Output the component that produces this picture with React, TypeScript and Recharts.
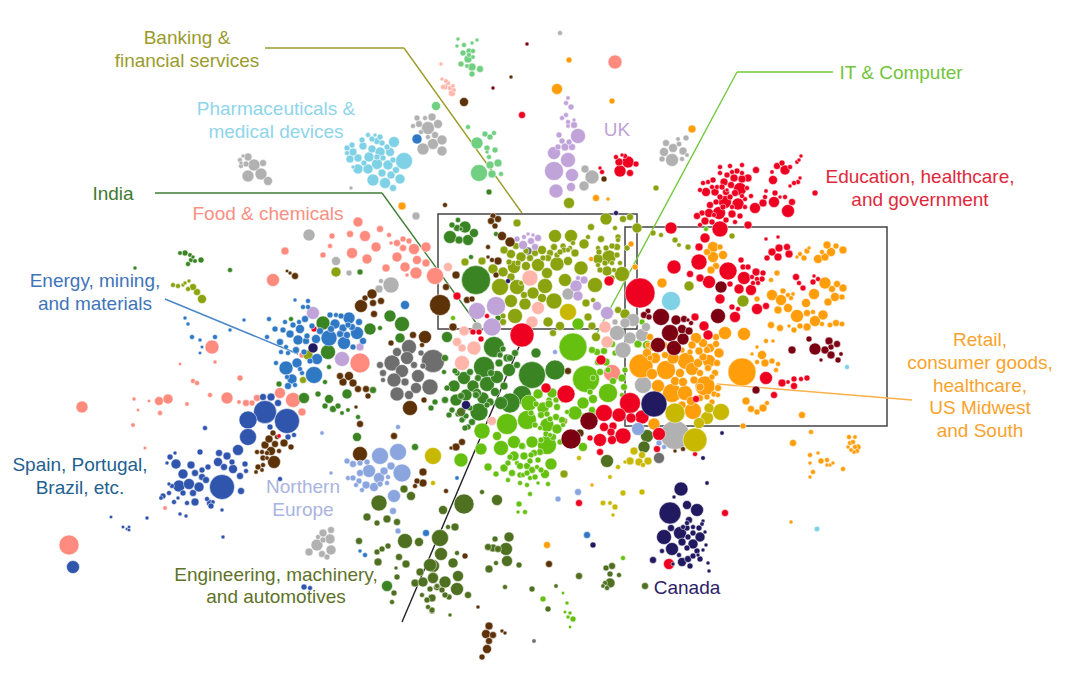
import { ReferenceArea, ReferenceLine, Scatter, ScatterChart, XAxis, YAxis, ZAxis } from "recharts";

type Bubble = [number, number, number];

// [x, y, radius], pixels of the 1080x677 frame
const pharma: Bubble[] = [[404,161,8],[394,142,4.5],[373,180,5],[385,183,4.5],[400,179,4],[393,188,2.5],[377,164,4.5],[388,165,4],[369,157,4],[380,152,4],[390,152,3.5],[358,169,4],[368,169,4],[382,173,3],[391,175,3],[396,170,2.5],[350,159,3],[358,158,3],[353,152,3],[363,146,3],[372,149,3],[377,141,2.5],[352,145,2],[347,148,2],[347,153,1.5],[364,163,2],[372,139,2],[368,135,1.5],[380,137,2],[387,147,2],[383,158,2],[393,160,2],[362,140,2],[375,135,1],[382,143,2],[353,167,1],[377,157,2],[671,301,9],[817,529,1.8],[847,367,1.5]];
const greyLight: Bubble[] = [[428,128,6],[433,144,4.5],[423,149,5],[432,117,3],[417,118,2],[419,124,2.5],[413,126,1.5],[425,118,1.5],[421,132,1.5],[435,135,2.5],[428,137,1.5],[438,124,3.5],[442,140,4],[442,151,4],
  [254,165,5],[261,174,5],[248,176,5],[268,181,3.5],[263,163,2.5],[248,157,3],[241,166,1.5],[246,164,2],[240,160,1.5],[243,156,1],[241,163,1],
  [592,177,6.5],[584,186,4],[585,169,3],[672,160,5.5],[673,148,3.5],[664,152,3.5],[683,151,3],[666,143,2.5],[662,159,2],[679,144,1.8],[686,138,2],[678,139,1.3],[687,155,1.3],[682,159,1.5],
  [309,235,5],[336,261,3.5],[349,273,2],[391,285,7.5],[379,289,3],[416,216,3],[381,281,1.5],[351,188,1],[560,33,1.5],
  [568,294,5],[477,327,4],[633,320,5.5],[625,323,4],[642,335,5.5],[630,338,5],[623,350,7.5],[646,327,3.5],[643,385,8],[617,333,7],[615,322,2],[675,435,14],
  [317,545,5],[330,539,4],[331,550,4],[309,552,3],[322,554,2.5],[327,557,2],[323,533,3],[331,530,2.5],[323,540,2],[318,537,1.5]];
const greyDark: Bubble[] = [[433,361,11],[409,347,7],[407,358,6],[392,363,7.5],[402,371,6],[394,380,6.5],[397,394,6.5],[418,376,5.5],[430,387,7.5],[416,388,4.5],[405,382,3],[409,395,3.5],[397,352,3.5],[383,373,2.5],[380,365,2.5],[414,365,2.5],[421,353,2],[423,366,2],[383,380,1.5],[528,251,3],[659,458,4.5],[534,641,1.2]];
const mintGreen: Bubble[] = [[479,173,8],[477,143,5],[436,106,3.5],[498,163,3],[490,165,3],[492,174,3],[501,174,1.5],[495,150,2],[487,148,2],[485,134,2],[490,137,2],[494,133,1.5],[487,152,1],[489,157,1.5],[468,127,1.5],
  [468,59,3],[472,67,3],[480,69,2.5],[461,64,2],[472,74,2],[463,53,2],[469,51,2],[473,51,1.5],[464,45,1.5],[457,46,1],[458,39,1],[477,40,1],[472,43,1],[469,55,1.5],[473,57,1.2],[467,66,1.3]];
const pinkLight: Bubble[] = [[452,93,2.5],[445,87,2],[448,83,1.5],[443,87,1.5],[450,88,1.5],[446,81,1.3],[442,79,1],[453,86,1.2],[454,90,1.2],[441,64,1],
  [530,278,7.5],[538,308,6],[532,322,5],[605,327,5],[448,267,3.5],[474,348,6.5],[462,363,7],[457,342,3.5],[464,331,4],[462,348,3],[607,342,5],[492,421,3.5]];
const salmon: Bubble[] = [[615,62,6.5],[69,545,9.5],[82,407,5],[212,347,6.5],[227,398,5],[159,401,3.5],[168,399,4],[280,393,4.5],[293,400,7],[302,412,3],[240,378,2],[246,403,2.5],[252,403,2],[257,398,2.5],[193,381,1.5],[197,383,1.5],[160,413,1.5],[133,425,1.2],[210,395,1.5],[239,402,1.2],[187,404,1.2],[215,362,1],[180,364,0.7],[134,399,1],[149,401,0.7],[165,508,1.2],[145,448,0.8],[138,410,0.7],
  [358,222,4],[365,236,4.5],[350,234,2.5],[376,247,4],[367,259,4],[352,253,4.5],[380,229,2.5],[332,236,2],[330,246,1.5],[323,255,2],[285,251,3],[273,280,6],[397,257,4],[414,249,4.5],[426,247,4],[417,260,3.5],[405,267,4],[416,273,5],[426,263,3],[435,276,8],[386,268,3],[403,248,2.5],[397,243,2.5],[403,239,2],[409,241,2],[391,243,1],[389,235,1.5],[407,275,1],[302,355,2],[360,363,9.5],[612,373,8]];
const lilac: Bubble[] = [[554,171,9],[554,153,6],[568,160,7],[578,136,7],[572,175,5.5],[556,191,6.5],[571,187,3.5],[565,147,3],[572,147,2.5],[558,147,2],[562,141,2],[569,142,2],[559,135,2],[574,125,2.5],[568,122,1.5],[562,118,1.5],[566,115,1.5],[571,107,2],[566,103,1.5],[568,98,1.2],[574,120,1],[568,126,1.2],
  [477,311,8],[496,306,9],[492,327,8.5],[576,286,5],[578,296,4],[584,280,3],[578,278,1.5],[597,306,3.5],[607,313,5.5],[523,245,3.5],[531,241,2.5],[538,238,2.5],[535,247,2.5],[517,239,2],[524,237,1.5],[528,234,1],[533,235,1],
  [313,313,5.5],[342,359,7],[360,347,3]];
const olive: Bubble[] = [[500,287,8],[517,287,7],[545,286,7],[554,301,7.5],[515,316,7],[581,268,6.5],[595,285,7],[557,264,6.5],[511,301,5.5],[514,267,6],[526,266,3.5],[538,265,5.5],[547,273,4.5],[533,293,5],[525,304,5],[565,280,5.5],[555,236,5.5],[571,236,6],[584,244,4],[606,219,5],[609,257,6.5],[622,274,7],[598,259,4],[607,271,4],[568,261,3.5],[575,253,3],[548,322,4],[560,326,3.5],[542,298,3.5],[493,269,4],[503,272,4],[511,277,3],[521,257,4],[511,254,3.5],[504,250,3],[535,253,2.5],[542,250,3.5],[554,247,2.5],[550,253,2.5],[563,246,2],[564,250,2],[530,258,2.5],[482,261,3],[465,262,3],[517,223,3],[591,227,2.5],[601,239,2.5],[617,247,2.5],[623,219,2.5],[630,217,2.5],[625,314,4],[588,317,3],[592,326,3],[586,303,3],[593,300,1.5],[618,310,2.5],[503,316,2],[503,322,2.5],[524,295,2.5],[521,283,1.5],[618,237,2],[618,240,1.5],[637,228,4],[620,263,1.5],[598,248,1.5],[598,265,1.5],[612,263,1.5],[617,255,2],[627,248,2],[615,228,1.5],[588,237,1.5],
  [516,246,2.5],[526,251,2],[509,262,2],[518,263,2],[548,258,2.5],[543,258,2],[557,255,2],[570,248,1.5],[573,243,1.5],[568,250,1.5],[560,252,2],[599,252,2],[606,248,2],[612,246,2],[605,263,2],[614,270,1.5],[600,270,2],[612,278,2],
  [569,203,4.5],[656,188,2],[653,233,2],[661,235,1.5],[675,240,2],[688,247,2],[689,286,4],[732,236,2],[743,301,5],[679,245,1.3],[596,337,3.5],[553,333,2.5],[582,133,1.5],
  [336,272,4],[202,299,3.5],[197,292,2.5],[193,287,2.5],[173,285,1.5],[178,286,1.5],[188,289,1.5],[183,285,1],[189,281,1],[185,283,1],[308,355,4],[303,380,2.5],[564,474,3],[564,421,2.5]];
const limeGreen: Bubble[] = [[573,347,13.5],[586,379,13],[507,424,10],[527,420,9],[529,403,7.5],[547,425,6.5],[547,445,9],[501,448,7],[514,442,5.5],[532,442,5],[482,431,7.5],[461,460,6.5],[608,393,9],[575,413,6.5],[583,403,5],[593,399,3.5],[481,449,5],[551,464,5],[524,456,3],[514,456,4],[504,468,3],[545,474,3.5],[488,467,3],[497,436,3.5],[557,429,4],[543,408,5],[552,393,4],[538,394,4],[557,407,2.5],[549,400,2],[556,417,2.5],[550,419,2],[512,473,2.5],[527,466,2.5],[532,470,2.5],[519,504,2],[525,512,1.5],[518,512,1],[520,475,2],[508,463,2],[517,463,1.5],[538,460,2],[540,452,2.5],[523,447,1.8],[530,494,1.5],[538,483,1],[548,484,1.5],[537,467,1.5],[523,475,1.5],[530,478,1.5],
  [534,453,2.5],[522,446,2.5],[531,455,2],[510,457,2],[520,466,2.5],[527,473,2],[530,461,2],[535,477,2],[520,483,1.5],[527,485,1.5],[541,470,2],[508,480,1.5],[496,474,2],[546,434,2],[553,437,2.5],[541,440,2],[560,442,2],[562,420,2.5],[549,404,3],[541,415,2.5],[536,404,2],[556,400,2],[547,414,2],[531,413,2],[563,400,2],[563,425,1.5],[550,435,1.5],[535,425,2],[540,428,1.5],
  [583,447,3.5],[597,352,2.5],[604,351,2.5],[606,362,3],[598,362,2.5],[608,370,2],[600,372,2.5],[593,378,2],[613,381,2.5],[622,378,3],[624,387,2.5],[615,353,2],[612,344,2.5],[620,352,2],[592,350,2.5],[590,392,2],[606,412,2.5],[593,412,2.5],[584,416,2],[625,370,2],[622,395,1.5],[592,410,2.5],[567,412,1.5],[647,345,3.5],[638,344,3],[642,322,2],[578,324,5],[706,229,1.5],
  [543,599,2],[573,619,2],[570,613,1],[565,612,0.8],[567,603,1],[623,558,1.5],[563,593,0.7],[570,627,0.7],[568,617,1],[453,318,1.5]];
const indiaGreen: Bubble[] = [[532,375,13],[555,370,9.5],[494,347,10],[484,367,10],[522,395,9],[510,403,9.5],[479,412,8.5],[464,378,6],[454,386,5],[456,400,5],[466,395,5],[487,384,7],[497,377,6],[509,370,6],[501,403,5.5],[483,398,5],[473,386,5],[495,392,3.5],[477,393,3.5],[499,363,3],[507,358,3],[515,353,2.5],[536,353,4],[447,337,4.5],[463,410,2],[463,419,2],[468,427,2],[465,428,2],[445,400,2.5],[445,358,2.5],[457,373,2],
  [478,378,2.5],[491,373,2.5],[504,386,3],[476,395,2.5],[490,402,3],[470,408,2],[487,405,2],[461,396,2.5],[470,372,2.5],[455,371,2],[463,364,2.5],[475,352,2],[503,349,2],[510,358,2.5],[517,365,2.5],[500,355,2],[462,420,2],[466,416,2],[472,422,2.5],[458,414,2],[452,410,2],[447,388,2],[449,415,2],[444,372,1.5],
  [476,280,14],[450,237,5.5],[465,227,5],[468,240,4.5],[474,233,3.5],[459,240,3],[457,228,2.5],[458,220,1.7],[452,225,2],[461,229,1],[498,318,2],[496,234,1.5],[471,257,1.5],
  [323,323,6.5],[328,352,7],[370,329,5],[402,324,7],[390,316,5],[400,338,4],[380,328,1.5],[291,319,1.5],[360,272,2],[304,398,4.5],[329,399,3.5],[347,394,4],[318,394,2],[333,409,2.5],[338,406,2],[325,406,2],[342,413,1.3],[348,410,1.3],[373,390,2.5],[357,437,3.5],[358,417,1.5],[431,408,2],[435,402,2],[415,447,2.5],[279,384,2],[325,382,1.5],[329,367,1.5],
  [185,253,2],[201,260,2],[190,255,1.3],[180,253,1.3],[191,260,1.5],[195,261,1.3],[188,264,1.5],[193,257,1],[230,270,1.5],[135,268,1],[387,586,4.5],[489,192,2]];
const engineering: Bubble[] = [[464,504,9.5],[440,538,8],[443,510,3.5],[441,554,5.5],[497,500,4.5],[506,549,5.5],[509,537,4],[507,561,4.5],[493,548,3],[498,549,2.5],[489,569,3],[519,565,2],[488,547,2.5],[495,539,2],[496,563,1.5],[455,527,3],[448,527,1.5],[433,566,5.5],[453,563,4],[458,576,4.5],[457,589,5.5],[445,582,5],[433,577,4],[437,587,2.5],[468,595,2.5],[449,597,2],[442,590,2],[457,553,1.5],[445,595,2],[432,598,3],[432,611,2],[450,615,1],
  [379,503,7.5],[405,541,7],[430,565,6],[419,542,3.5],[367,517,3],[377,523,2],[387,519,3],[397,522,2.5],[404,489,3],[411,496,3.5],[359,541,2.5],[377,552,2],[382,549,2],[388,546,2],[378,562,3],[399,557,2.5],[406,564,3],[415,583,3],[423,582,4],[433,578,4.5],[420,572,3],[397,577,2],[394,593,2],[392,602,1.5],[430,589,2],[437,586,1.5],[427,600,2],[422,595,1.5],[432,610,2],[428,607,1.5],[396,568,1],
  [579,576,2.5],[610,574,2],[612,566,2.5],[606,568,2],[610,583,4],[619,575,1.5],[605,583,1.5],[603,586,1.2],[607,588,1.5],[645,586,2.5],[532,589,2],[548,609,2],[505,587,1.5],[556,586,1.2],[482,492,1.5],[647,436,5.5],[644,447,5],[607,461,5.5],[461,412,3.5]];
const brown: Bubble[] = [[410,408,7],[425,337,5.5],[360,454,7],[413,335,2.5],[391,343,2],[422,345,1.5],[424,400,2],[343,382,3],[349,376,3.5],[353,383,3],[340,376,2.5],[358,389,2.5],[366,389,2.5],[368,396,2],[356,407,1],[360,424,2.5],[394,436,2.5],[423,472,3],[423,483,3],[417,481,2],[415,486,1.5],
  [440,305,10],[361,306,5.5],[372,294,4],[373,303,2.5],[381,301,2.5],[365,298,2],[374,314,2.5],[295,276,2.5],[290,273,1],[287,271,0.8],[464,102,3.5],[604,179,2],
  [274,462,5.5],[271,451,3.5],[265,445,3],[275,444,2.5],[269,439,3],[284,443,3],[291,447,2],[273,433,2],[279,451,1.5],[263,458,2],[257,452,1.5],[262,452,1.5],[267,453,1.5],[258,467,2],[263,465,1.5],[256,472,1.2],[262,470,1.2],[267,458,1.2],[277,437,1.5],
  [493,216,2],[491,221,2.5],[498,219,2.5],[495,226,2],[502,236,3.5],[510,242,4],[488,247,1.5],[498,261,3],[492,260,1.5],[488,257,1],[496,275,2],[456,275,3],[467,300,2.5],[472,299,2],[446,287,2.5],[453,327,3],
  [580,433,3],[568,371,2.5],[489,626,3],[486,634,3.5],[489,641,2.5],[493,635,2.5],[487,649,3.5],[482,657,2],[502,631,1],[505,633,1],[549,564,2.5],[465,556,2],[478,607,1],[446,491,1.5],[456,447,3],[462,442,2.5],[451,448,1],[675,451,1],[683,449,1.5],[445,205,1.5],[511,77,1]];
const red: Bubble[] = [[522,115,2.5],[628,162,5],[620,171,5],[619,162,3],[630,173,2.5],[636,164,2],[616,157,1.5],[625,156,1.5],[622,155,1],[602,172,1.5],[600,168,1],
  [725,202,5.5],[720,229,7.5],[719,213,5.5],[740,189,5.5],[738,204,5],[755,208,4.5],[706,192,3.5],[715,192,3],[726,192,2.5],[724,182,3],[709,213,3.5],[702,213,2],[697,216,2.5],[705,221,3],[710,205,2.5],[716,202,2],[732,214,3],[740,216,2],[748,225,3],[735,193,2.5],[748,178,3],[742,179,3],[734,178,3],[727,175,2],[737,171,2],[730,166,1.5],[756,170,2.5],[713,180,2],[708,182,1.5],[703,183,1.5],[717,187,1.5],[732,172,1.5],[742,173,1.5],[745,199,1.5],[751,196,1.5],[732,207,1.5],[727,190,1],[720,173,1.5],
  [722,187,2],[731,185,2.5],[747,188,1.5],[712,187,1.5],[700,190,1.5],[730,197,2],[720,197,2],[742,196,1.5],[723,207,2],[714,215,1.5],[726,220,2],[735,222,1.5],[712,222,2],[700,225,1.5],[720,167,1.5],[742,165,1.5],[745,207,1.5],
  [788,211,5.5],[774,202,4.5],[773,180,3.5],[785,170,4],[792,202,2.5],[763,203,3],[777,166,2.5],[782,163,2],[765,197,1.5],[775,193,2],[785,197,1.5],[780,197,1],[790,167,1.5],[797,162,1.2],[799,160,1],[801,156,1],[798,182,1.5],[794,183,1.5],[790,186,1],[800,178,1],[815,193,2],[772,172,1.2],[766,191,1.2],
  [671,228,5],[705,238,4],[699,247,3],[699,262,7.5],[674,267,6.5],[728,271,8.5],[744,278,6],[709,282,5.5],[700,278,3],[690,274,2.5],[720,299,4],[739,289,4],[751,290,4.5],[730,284,2],[735,317,4.5],[738,309,1.5],[732,307,2],[757,309,4.5],[766,306,2.5],[704,326,4],[708,335,4],[695,317,3],[741,260,2],[743,267,2],[748,267,2],[756,272,3],[752,277,1.5],[763,273,2],[762,279,2],[757,279,1.5],[753,283,1.5],[758,283,1.5],[766,239,1],[772,252,3],[779,248,3],[787,247,2.5],[789,254,3],[778,257,3],[767,258,2],[778,237,1],[796,277,2.5],[799,283,1.5],[803,288,2],[813,282,2],[818,279,1.5],[814,276,1],[766,378,5.5],[782,383,3],[794,379,2],[794,386,2.5],[801,379,1.5],[807,378,2],[774,395,2.5],[788,382,1.2],[640,293,14.5],
  [609,281,4],[457,296,3],[487,316,1.5],[472,331,1.5],[481,339,2],[479,332,2],[473,332,2],[314,329,2],
  [630,403,10],[604,413,8],[619,415,6.5],[642,417,6.5],[631,418,4],[623,436,7.5],[600,440,6],[612,440,3.5],[613,426,3],[604,427,3.5],[611,432,3],[659,434,5.5],[657,449,2.5],[566,394,8.5],[546,388,4],[601,360,4],[522,335,11.5],[600,452,2.5],[696,399,2.5],[695,454,1.5],[590,438,2],[669,564,4.5],[725,513,2.5],[579,503,2.5],[279,436,1.2]];
const darkRed: Bubble[] = [[718,316,7],[721,287,5],[661,317,8],[670,333,8],[658,345,7],[674,348,7],[683,339,5],[676,320,4],[682,329,3.5],[689,331,3],[684,319,2.5],[648,311,1.8],[644,315,2.5],[649,317,2],[691,323,1.5],[688,320,1],[792,350,3],[815,349,5],[825,350,3],[831,355,3],[829,341,3],[837,344,2.5],[831,347,2],[809,339,2],[838,360,2],[841,354,1.2],[821,360,1],[756,390,3],[589,421,8.5],[571,439,9.5],[493,88,1],[527,44,1]];
const orange: Bubble[] = [[641,366,11.5],[666,370,9],[686,361,8],[673,358,5],[742,372,13.5],[705,386,9.5],[672,393,9],[685,393,7],[658,386,6],[652,374,4.5],[655,358,4.5],[647,353,3.5],[692,369,5.5],[680,373,3.5],[675,381,3.5],[683,382,3.5],[709,361,6],[698,363,3.5],[700,373,2.5],[703,357,3],[719,353,4],[710,348,3.5],[703,343,3.5],[696,338,4.5],[692,345,3],[699,351,3],[716,344,2.5],[716,337,2.5],[725,333,5.5],[744,334,6],[717,363,2.5],[715,373,2.5],[718,388,2.5],[714,394,2],[718,395,1.5],[693,411,8],[654,424,5],[650,337,2.5],[712,377,2],[708,368,2.5],
  [665,355,2.5],[676,347,3],[682,350,2],[690,352,2],[707,350,2.5],[694,380,3],[700,387,3],[691,401,3.5],[682,405,3],[707,397,2],[712,402,2],[700,398,2.5],[650,358,2],[648,345,2],[664,345,2.5],[653,347,3],
  [713,247,4.5],[713,257,4.5],[723,255,3.5],[707,252,2.5],[720,247,2],[716,266,2.5],[711,270,3],[662,283,4],
  [772,295,4.5],[781,300,4.5],[797,316,6],[814,294,4.5],[825,283,5],[815,321,4.5],[806,303,3.5],[823,315,4],[788,308,3.5],[778,310,3],[807,327,3],[828,302,3],[835,297,3.5],[843,288,3],[837,284,2.5],[832,289,2.5],[842,297,2],[800,326,2],[807,313,2.5],[813,312,1.5],[771,325,2.5],[780,328,2.5],[794,330,2],[789,326,1],[783,291,2],[788,295,1.5],[793,294,1.2],[791,298,1.5],[836,323,2.5],[830,325,1.8],[842,324,1.8],[822,324,1.5],[818,259,3.5],[825,257,3],[831,252,3.5],[827,245,3],[836,246,2],[843,250,3],[822,252,1.5],[800,254,1.5],[804,258,2],[807,251,2],[797,257,1],[809,248,1],[777,273,2],[757,299,2],[771,280,1.5],
  [762,355,3.5],[765,363,3],[772,361,2],[757,362,1.5],[778,364,1.5],[776,370,1.5],[746,401,3],[751,409,2.5],[757,412,2],[763,408,3],[767,403,1.5],[802,415,2.5],[743,426,2],[793,443,2.5],[766,341,1.5],[773,341,1],[752,354,1],[757,347,1],
  [821,461,2],[810,455,1.5],[818,453,1],[813,472,1.5],[827,460,1.5],[830,465,1],[827,465,1],[833,463,1],[810,463,1],[843,469,1.5],[810,477,1],[811,432,1.5],[849,437,1.5],[855,437,1.2],[850,443,1.5],[858,447,2],[855,447,1.5],[853,442,1.5],[857,451,1.5],[848,447,1],[854,452,1.2],[851,450,1.2],
  [557,89,4.5],[569,60,2],[612,101,2],[692,129,3],[402,206,3],[596,198,2.5],[608,199,1],[631,244,2],[591,259,1.5],[635,267,2],[547,545,2.5],[592,485,1],[791,522,1]];
const energyBlue: Bubble[] = [[329,338,7.5],[344,343,5.5],[357,333,5.5],[314,375,8],[286,368,6.5],[297,363,4],[292,379,4],[298,340,4],[290,334,3],[316,339,3.5],[317,359,4.5],[288,386,2.5],[280,342,2.5],[306,341,2.5],[341,333,2.5],[363,341,2.5],[353,347,2],[276,363,1.5],[307,336,2],[287,377,1.5],[302,373,1.5],[295,385,1.5],[349,318,5],[335,324,4],[343,328,3],[359,322,2.5],[300,329,3.5],[330,315,2],[336,315,1.5],[341,316,2],[269,319,1.5],[275,329,2],[283,330,2],[305,319,2.5],[299,322,1.5],[308,301,1.5],[303,307,1.5],[308,307,1.5],[295,300,1],[405,305,3.5],[267,337,1.5],[340,334,2.5],[347,335,2.5],
  [320,331,2.5],[331,329,2.5],[352,327,2.5],[348,325,2],[312,326,2],[293,325,2],[285,322,1.5],[296,350,2.5],[288,353,1.5],[304,352,2],[281,352,1.5],[286,347,1.5],[300,369,1.5],[310,361,2],
  [215,337,1.5],[188,324,1],[185,318,1],[244,320,1],[230,330,1],[192,337,1.5],[200,340,1],[202,347,0.8],[200,353,0.8],[417,139,4],[587,535,2.5],[457,478,1.2],[426,533,2.5],[360,551,1],[365,555,1.5]];
const spainBlue: Bubble[] = [[265,412,11],[287,421,12],[248,420,8.5],[248,437,8],[238,450,4.5],[222,487,12],[271,397,3],[263,397,2.5],[278,403,2.5],[270,427,2],[288,437,2],[294,435,1.5],[205,428,1.5],
  [179,486,5],[189,484,4.5],[199,487,4],[183,474,4],[176,464,4],[191,465,3],[195,502,3],[193,493,2.5],[202,477,2.5],[195,473,2.5],[202,470,2],[208,467,2],[206,480,2.5],[218,462,3.5],[227,456,3],[233,469,3.5],[224,467,2.5],[219,453,2.5],[200,452,2],[232,462,2],[245,464,2],[246,471,1.5],[240,476,2.5],[241,491,2.5],[210,503,2.5],[207,499,1.5],[187,503,1.5],[183,493,2],[172,486,1.5],[169,484,1],[169,493,1.5],[163,496,2],[161,498,1.2],[174,502,1.5],[178,498,1],[170,457,2],[167,463,1],[175,453,1],[213,502,1.2],[180,514,1],[186,516,1],[222,510,1],[211,506,2],[147,518,1],[111,517,0.8],[123,527,0.8],[127,529,0.8],[129,527,0.8],[129,530,0.8],[223,537,1],[73,567,6],[304,587,2],[310,588,1.5],[280,479,1.5]];
const northEurope: Bubble[] = [[398,452,8],[380,456,8],[402,473,8.5],[369,471,5.5],[379,478,4.5],[394,496,6],[391,466,3],[374,487,3.5],[366,485,3],[384,471,3],[360,473,2.5],[353,464,2.5],[367,462,2],[360,463,2],[347,461,2],[348,478,1.5],[353,478,2],[359,481,2],[356,485,1.5],[362,490,1.5],[387,483,1.5],[388,477,1.5],[380,484,2],[398,427,1.5],[393,511,2.5],[398,531,2],[322,433,1.2],[331,473,1],[638,429,5.5],[659,443,2],[664,447,1.5],[578,492,2.5],[558,499,2],[555,352,1.5]];
const yellowOlive: Bubble[] = [[568,312,8],[695,440,11.5],[675,413,9.5],[721,412,8],[707,418,5.5],[709,408,4],[699,423,4.5],[630,461,3],[639,462,3],[648,461,3],[642,455,2.5],[634,451,3],[643,465,1.5],[618,467,1.5],[625,462,1],[623,493,2],[642,492,2],[603,503,1.8],[615,507,2],[610,503,1.3],[613,515,1],[610,477,1.3],[579,458,1.5],[433,456,8],[433,483,1.5]];
const navy: Bubble[] = [[654,404,12.5],[466,405,3.5],[313,348,4],[508,281,1.5],[616,213,1.5],
  [681,489,6.5],[670,513,10.5],[697,510,5.5],[687,505,3.5],[664,537,7],[680,533,5.5],[672,549,5.5],[671,528,2.5],[700,537,4],[693,544,4],[682,542,3],[689,520,2.5],[699,528,2],[687,528,2],[693,527,1.5],[693,533,2],[688,537,2],[687,548,2],[682,562,3.5],[690,566,2],[688,559,2.5],[697,551,2],[700,559,2],[693,556,2],[662,551,1.5],[653,560,2.5],[679,555,1.5],[673,564,1],[674,497,1],[707,483,1.2],[703,521,1],[705,532,1],[702,524,1.2],[687,523,1.5],[683,527,1.5],[706,545,1],[703,550,1],[698,555,1],[709,571,1],[708,563,1],[703,458,1.3],[722,433,1.2],[593,545,2]];

const bubbleGroups: [string, Bubble[]][] = [
  ["#7fd1e6", pharma],
  ["#70cf80", mintGreen],
  ["#ff8b7f", salmon],
  ["#6e6e6e", greyDark],
  ["#8ba30e", olive],
  ["#3a8424", indiaGreen],
  ["#66c00f", limeGreen],
  ["#b1b1b1", greyLight],
  ["#ffb5a9", pinkLight],
  ["#c0a3d8", lilac],
  ["#4f7020", engineering],
  ["#5e3208", brown],
  ["#ff9e0a", orange],
  ["#ee0020", red],
  ["#7a0012", darkRed],
  ["#2f78c4", energyBlue],
  ["#2f55ad", spainBlue],
  ["#8ba6df", northEurope],
  ["#c8b800", yellowOlive],
  ["#221a60", navy],
];

const labelLines: [string, string, number, number][] = [
  ["Banking &", "#9a9b2c", 187, 38],
  ["financial services", "#9a9b2c", 187, 61],
  ["Pharmaceuticals &", "#8fd5ea", 276, 109],
  ["medical devices", "#8fd5ea", 276, 132],
  ["India", "#3f7a30", 113, 194],
  ["Food & chemicals", "#f98f83", 268, 214],
  ["Energy, mining,", "#3f74b8", 95, 281],
  ["and materials", "#3f74b8", 95, 304],
  ["Spain, Portugal,", "#1f6190", 80, 465],
  ["Brazil, etc.", "#1f6190", 80, 488],
  ["Northern", "#aab4e0", 303, 487],
  ["Europe", "#aab4e0", 303, 510],
  ["Engineering, machinery,", "#5e7228", 276, 575],
  ["and automotives", "#5e7228", 276, 597],
  ["UK", "#bfa2d6", 617, 130],
  ["IT & Computer", "#72c43c", 901, 73],
  ["Education, healthcare,", "#e0283c", 920, 177],
  ["and government", "#e0283c", 920, 200],
  ["Retail,", "#f9a32e", 980, 340],
  ["consumer goods,", "#f9a32e", 980, 363],
  ["healthcare,", "#f9a32e", 980, 386],
  ["US Midwest", "#f9a32e", 980, 408],
  ["and South", "#f9a32e", 980, 431],
  ["Canada", "#2b2168", 687, 588],
];

const leaderLines: [string, number, number, number, number][] = [
  ["#9c9c2a", 265, 48, 404, 48],
  ["#9c9c2a", 404, 48, 522, 213],
  ["#3f7d35", 155, 193, 382, 193],
  ["#3f7d35", 382, 193, 482, 331],
  ["#4a86c8", 165, 299, 298, 354],
  ["#72c83c", 833, 72, 737, 72],
  ["#72c83c", 737, 72, 596, 335],
  ["#fbb04a", 717, 384, 912, 400],
  ["#222222", 402, 622, 527, 328],
];

const boxes: [number, number, number, number][] = [
  [438, 214, 637, 329],
  [625, 227, 887, 426],
];

// the reference is a soft raster, its small dots read larger than their crisp core
const radiusBoost = (r: number) => (r < 6 ? 1 : 0.5);
const toPoints = (list: Bubble[]) => list.map(([x, y, r]) => ({ x, y, z: (r + radiusBoost(r)) ** 2 }));
const labelPoints = labelLines.map(([text, color, x, y]) => ({ text, color, x, y, z: 1 }));

function LabelMark(props: any) {
  const { cx, cy, payload } = props;
  return (
    <text x={cx} y={cy} dy="0.3em" textAnchor="middle" fontFamily="'Liberation Sans', Arial, sans-serif" fontSize={19} fill={payload.color}>
      {payload.text}
    </text>
  );
}

export default function App() {
  return (
    <div style={{ position: "absolute", left: 0, top: 0, width: 1080, height: 677, background: "#fff" }}>
      <ScatterChart width={1080} height={677} margin={{ top: 0, right: 0, bottom: 0, left: 0 }}>
        <XAxis type="number" dataKey="x" domain={[0, 1080]} hide />
        <YAxis type="number" dataKey="y" domain={[0, 677]} reversed hide />
        <ZAxis type="number" dataKey="z" domain={[0, 400]} range={[0, 400 * Math.PI]} />
        {bubbleGroups.map(([color, list]) => (
          <Scatter key={color} data={toPoints(list)} fill={color} stroke="#fff" strokeWidth={0.5} isAnimationActive={false} />
        ))}
        {leaderLines.map(([color, x1, y1, x2, y2]) => (
          <ReferenceLine key={`${x1}-${y1}`} segment={[{ x: x1, y: y1 }, { x: x2, y: y2 }]} stroke={color} strokeWidth={1.4} ifOverflow="visible" />
        ))}
        {boxes.map(([x1, y1, x2, y2]) => (
          <ReferenceArea key={x1} x1={x1} y1={y1} x2={x2} y2={y2} fill="none" stroke="#444" strokeWidth={1.5} ifOverflow="visible" />
        ))}
        <Scatter data={labelPoints} shape={LabelMark} isAnimationActive={false} />
      </ScatterChart>
    </div>
  );
}
